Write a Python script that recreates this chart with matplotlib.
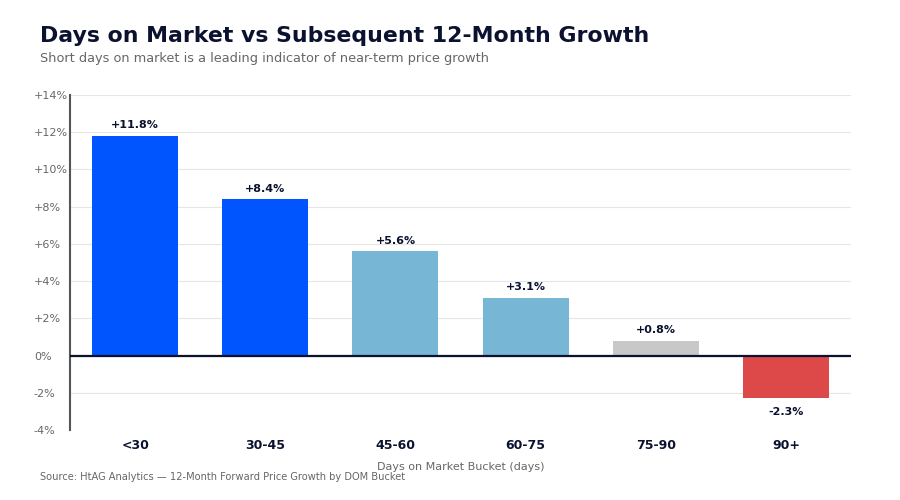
import matplotlib.pyplot as plt
import matplotlib.ticker as mticker

# --- Data ---
buckets = ["<30", "30-45", "45-60", "60-75", "75-90", "90+"]
growth = [11.8, 8.4, 5.6, 3.1, 0.8, -2.3]
bar_colors = ["#0055FF", "#0055FF", "#77B6D5", "#77B6D5", "#C8C8C8", "#DD4848"]

NAVY = "#0B1230"
GRAY = "#666666"

fig = plt.figure(figsize=(9, 5), dpi=100)
ax = fig.add_axes([0.0778, 0.14, 0.8678, 0.67])

x = list(range(len(buckets)))
bars = ax.bar(x, growth, width=0.66, color=bar_colors, zorder=3)

ax.set_xlim(-0.5, len(buckets) - 0.5)
ax.set_ylim(-4, 14)
ax.set_yticks(range(-4, 15, 2))
ax.yaxis.set_major_formatter(mticker.FuncFormatter(lambda v, _: f"{v:+.0f}%" if v != 0 else "0%"))

ax.grid(axis="y", color="#E6E6E6", linewidth=0.8, zorder=0)
ax.axhline(0, color=NAVY, linewidth=1.6, zorder=4)

for s in ["top", "right", "bottom"]:
    ax.spines[s].set_visible(False)
ax.spines["left"].set_color("#555555")
ax.spines["left"].set_linewidth(1.5)

ax.set_xticks(x)
ax.set_xticklabels(buckets, fontsize=9, fontweight="bold", color=NAVY)
ax.tick_params(axis="x", length=0, pad=6.5)
ax.tick_params(axis="y", length=0, labelsize=8, labelcolor=GRAY)
for lbl in ax.get_yticklabels():
    lbl.set_horizontalalignment("left")
ax.yaxis.set_tick_params(pad=26)

ax.set_xlabel("Days on Market Bucket (days)", fontsize=8, color=GRAY, labelpad=7)

# value labels
for xi, v in zip(x, growth):
    if v >= 0:
        ax.annotate(f"{v:+.1f}%", (xi, v), xytext=(0, 4), textcoords="offset points",
                    ha="center", va="bottom", fontsize=8, fontweight="bold", color=NAVY)
    else:
        ax.annotate(f"{v:.1f}%", (xi, v), xytext=(0, -6.5), textcoords="offset points",
                    ha="center", va="top", fontsize=8, fontweight="bold", color=NAVY)

fig.text(0.044, 0.928, "Days on Market vs Subsequent 12-Month Growth", fontsize=15.8,
         fontweight="bold", color=NAVY, va="center")
fig.text(0.044, 0.883, "Short days on market is a leading indicator of near-term price growth",
         fontsize=9.25, color=GRAY, va="center")
fig.text(0.044, 0.046, "Source: HtAG Analytics \u2014 12-Month Forward Price Growth by DOM Bucket",
         fontsize=7.15, color=GRAY, va="center")

fig.savefig("out.png", dpi=100)
